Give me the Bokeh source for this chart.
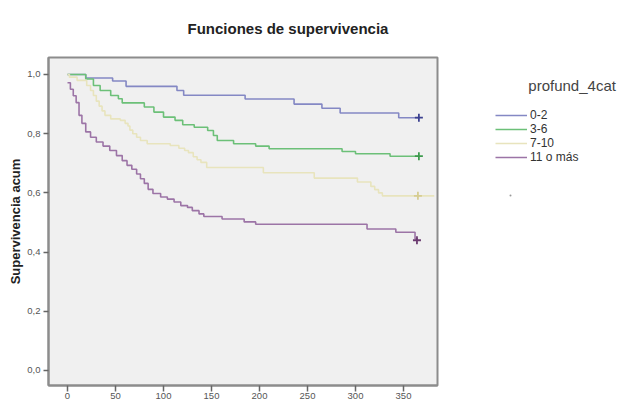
from bokeh.plotting import figure
from bokeh.layouts import row
from bokeh.models import (Range1d, FixedTicker, CustomJSTickFormatter, Legend, LegendItem)
from bokeh.embed import file_html
from bokeh.resources import INLINE

# ---- data ----
title_text = "Funciones de supervivencia"
y_label = "Supervivencia acum"
legend_title = "profund_4cat"
groups = ["0-2", "3-6", "7-10", "11 o más"]

t_02 = [0, 19, 47, 61, 114, 121, 185, 236, 265, 284, 345, 366]
s_02 = [1.0, 0.988, 0.978, 0.960, 0.946, 0.930, 0.917, 0.900, 0.886, 0.870, 0.854, 0.854]

t_36 = [0, 19, 27, 34, 45, 53, 57, 80, 90, 100, 112, 120, 132, 146, 152, 156, 173, 196, 210, 286, 300, 336, 366]
s_36 = [1.0, 0.985, 0.963, 0.946, 0.929, 0.918, 0.904, 0.890, 0.873, 0.856, 0.845, 0.830, 0.822, 0.811,
        0.794, 0.777, 0.766, 0.758, 0.749, 0.740, 0.732, 0.724, 0.724]

t_710 = [0, 2, 10, 20, 24, 27, 30, 33, 36, 39, 45, 55, 60, 63, 65, 68, 72, 76, 83, 107, 116, 122, 126,
         131, 135, 139, 145, 204, 257, 302, 316, 320, 324, 328, 382]
s_710 = [1.0, 0.991, 0.980, 0.963, 0.946, 0.929, 0.910, 0.893, 0.877, 0.862, 0.850, 0.845, 0.835, 0.826,
         0.812, 0.800, 0.788, 0.777, 0.766, 0.760, 0.751, 0.743, 0.736, 0.722, 0.712, 0.703, 0.686, 0.668,
         0.650, 0.637, 0.622, 0.611, 0.600, 0.590, 0.590]

t_11 = [0, 3, 6, 9, 12, 15, 19, 24, 30, 37, 44, 51, 57, 62, 67, 72, 76, 80, 84, 89, 97, 104, 111, 118,
        125, 130, 137, 142, 161, 184, 196, 312, 342, 362, 365]
s_11 = [0.972, 0.950, 0.928, 0.905, 0.862, 0.835, 0.806, 0.788, 0.772, 0.758, 0.743, 0.726, 0.709, 0.693,
        0.680, 0.664, 0.648, 0.632, 0.612, 0.598, 0.586, 0.579, 0.569, 0.557, 0.551, 0.540, 0.529, 0.520,
        0.512, 0.502, 0.494, 0.478, 0.467, 0.445, 0.445]

# censored marks at the end of follow-up
cens_t = [366, 366, 365, 364]
cens_s = [0.854, 0.724, 0.590, 0.440]

x_ticks = [0, 50, 100, 150, 200, 250, 300, 350]
y_ticks = [0.0, 0.2, 0.4, 0.6, 0.8, 1.0]

line_colors = ["#8488c4", "#6cc078", "#e8e4bd", "#9c74a6"]
mark_colors = ["#3c4190", "#3d9a4d", "#d6cd92", "#6b3b70"]

FONT = "Liberation Sans"

# ---------------- main chart ----------------
p = figure(width=440, height=403, output_backend="svg", toolbar_location=None,
           x_range=Range1d(-19.8, 385.4), y_range=Range1d(-0.0507, 1.0574),
           min_border_left=48, min_border_right=3, min_border_top=57, min_border_bottom=18)
p.background_fill_color = "#f0f0f0"
p.border_fill_color = "white"
p.outline_line_color = "#8c8c8c"
p.outline_line_width = 2
p.grid.visible = False

p.title.text = title_text
p.title.align = "left"
p.title.offset = 139
p.title.vertical_align = "top"
p.title.text_font = FONT
p.title.text_font_style = "bold"
p.title.text_font_size = "15px"
p.title.text_color = "#222222"
p.title.standoff = 38

series = [(t_02, s_02), (t_36, s_36), (t_710, s_710), (t_11, s_11)]
for (t, s), c in zip(series, line_colors):
    p.step(t, s, mode="after", line_color=c, line_width=1.6)
for i in range(4):
    p.scatter([cens_t[i]], [cens_s[i]], marker="cross", size=8, line_width=1.8, line_color=mark_colors[i])

for ax in (p.xaxis[0], p.yaxis[0]):
    ax.axis_line_color = "#8c8c8c"
    ax.axis_line_width = 2
    ax.major_tick_line_color = "#666666"
    ax.major_tick_line_width = 1.5
    ax.minor_tick_line_color = None
    ax.major_tick_in = 0
    ax.major_label_text_font = FONT
    ax.major_label_text_color = "#555555"
    ax.major_label_text_font_size = "9.5px"

p.xaxis.ticker = FixedTicker(ticks=x_ticks)
p.xaxis.major_tick_out = 6
p.xaxis.major_label_standoff = 1

p.yaxis.ticker = FixedTicker(ticks=y_ticks)
p.yaxis.major_tick_out = 5
p.yaxis.major_label_standoff = 3
p.yaxis.formatter = CustomJSTickFormatter(code="return tick.toFixed(1).replace('.', ',');")
p.yaxis.axis_label = y_label
p.yaxis.axis_label_text_font = FONT
p.yaxis.axis_label_text_font_style = "bold"
p.yaxis.axis_label_text_font_size = "13px"
p.yaxis.axis_label_text_color = "#222222"
p.yaxis.axis_label_standoff = 1

# ---------------- legend panel (frame aligned with the chart frame: 57..385 px) ----------------
p2 = figure(width=189, height=403, output_backend="svg", toolbar_location=None, title=None,
            x_range=Range1d(0, 189), y_range=Range1d(385, 57), min_border=0)
p2.outline_line_color = None
p2.axis.visible = False
p2.grid.visible = False
p2.background_fill_color = "white"
p2.border_fill_color = "white"

# legend-only renderers (kept outside the visible range)
leg_renderers = [p2.step(x=[-50, -40], y=[-50, -50], mode="after", line_color=c, line_width=1.6)
                 for c in line_colors]
legend = Legend(items=[LegendItem(label=g, renderers=[r]) for g, r in zip(groups, leg_renderers)],
                location=(55, 221), orientation="vertical", padding=0, spacing=0, margin=0,
                glyph_width=32, glyph_height=14, label_height=14, label_standoff=3,
                label_text_font=FONT, label_text_font_size="12px", label_text_color="#333333",
                title="\u00a0" * 8 + legend_title, title_text_font=FONT, title_text_font_size="15px",
                title_text_font_style="normal", title_text_color="#444444", title_standoff=14,
                background_fill_alpha=0, border_line_color=None)
p2.add_layout(legend, "center")
p2.scatter([70], [195], marker="circle", size=2, line_color=None, fill_color="#999999")

open("out.html", "w").write(file_html(row(p, p2), INLINE))
